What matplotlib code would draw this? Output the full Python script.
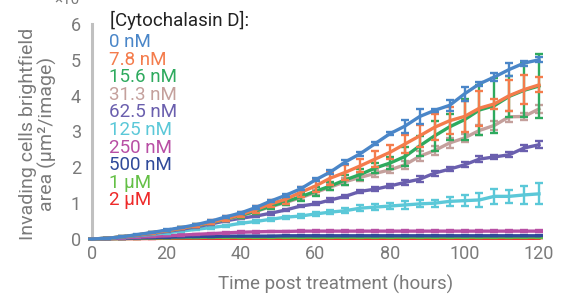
import matplotlib
matplotlib.use("Agg")
import matplotlib.pyplot as plt
import numpy as np

plt.rcParams['font.family'] = ['Roboto', 'DejaVu Sans']

hours = list(range(0, 121, 4))

labels = ["0 nM", "7.8 nM", "15.6 nM", "31.3 nM", "62.5 nM", "125 nM",
          "250 nM", "500 nM", "1 µM", "2 µM"]
colors = ["#4a86c8", "#f47c4c", "#2eaa5e", "#c4a09c", "#6a5fae", "#5bc8d8",
          "#b84ea4", "#2f4a9a", "#64c046", "#ee2a2a"]

v_0nM = [0, 0.02, 0.06, 0.12, 0.18, 0.25, 0.32, 0.40, 0.50, 0.62, 0.73, 0.88, 1.06, 1.22, 1.40, 1.65,
         1.87, 2.15, 2.38, 2.66, 2.94, 3.15, 3.42, 3.59, 3.73, 4.05, 4.33, 4.52, 4.73, 4.91, 5.00]
v_7_8nM = [0, 0.02, 0.06, 0.11, 0.17, 0.23, 0.30, 0.38, 0.47, 0.57, 0.68, 0.82, 0.98, 1.11, 1.30, 1.48,
           1.70, 1.86, 2.04, 2.23, 2.42, 2.65, 2.88, 3.12, 3.30, 3.42, 3.65, 3.77, 4.00, 4.17, 4.30]
v_15_6nM = [0, 0.02, 0.06, 0.11, 0.17, 0.23, 0.30, 0.37, 0.46, 0.56, 0.66, 0.78, 0.92, 1.04, 1.18, 1.33,
            1.48, 1.65, 1.80, 1.98, 2.12, 2.30, 2.60, 2.88, 3.13, 3.33, 3.60, 3.72, 3.98, 4.15, 4.27]
v_31_3nM = [0, 0.02, 0.06, 0.11, 0.17, 0.23, 0.30, 0.37, 0.46, 0.55, 0.65, 0.77, 0.90, 1.02, 1.15, 1.30,
            1.45, 1.60, 1.72, 1.83, 1.93, 2.07, 2.31, 2.47, 2.68, 2.82, 3.03, 3.17, 3.41, 3.42, 3.63]
v_62_5nM = [0, 0.02, 0.05, 0.10, 0.15, 0.21, 0.27, 0.34, 0.42, 0.51, 0.58, 0.64, 0.72, 0.81, 0.92, 0.98,
            1.09, 1.19, 1.33, 1.39, 1.48, 1.58, 1.67, 1.84, 1.95, 2.07, 2.23, 2.29, 2.35, 2.54, 2.63]
v_125nM = [0, 0.02, 0.05, 0.09, 0.13, 0.17, 0.22, 0.27, 0.32, 0.37, 0.44, 0.49, 0.55, 0.61, 0.64, 0.70,
           0.75, 0.79, 0.86, 0.89, 0.92, 0.95, 0.98, 1.00, 1.05, 1.07, 1.09, 1.19, 1.19, 1.23, 1.26]
v_250nM = [0, 0.01, 0.03, 0.05, 0.07, 0.09, 0.11, 0.13, 0.15, 0.17, 0.19, 0.20, 0.21, 0.21, 0.22, 0.22,
           0.22, 0.22, 0.22, 0.22, 0.22, 0.22, 0.22, 0.22, 0.22, 0.22, 0.22, 0.22, 0.22, 0.22, 0.22]
v_500nM = [0, 0.01, 0.02, 0.03, 0.04, 0.05, 0.06, 0.07, 0.07, 0.08, 0.08, 0.08, 0.08, 0.09, 0.09, 0.09,
           0.09, 0.09, 0.09, 0.09, 0.09, 0.09, 0.09, 0.09, 0.09, 0.09, 0.09, 0.09, 0.09, 0.09, 0.09]
v_1uM = [0, 0.01, 0.01, 0.02, 0.03, 0.03, 0.04, 0.04, 0.05, 0.05, 0.05, 0.05, 0.05, 0.05, 0.05, 0.05,
         0.05, 0.05, 0.05, 0.05, 0.05, 0.05, 0.05, 0.05, 0.05, 0.05, 0.05, 0.05, 0.05, 0.05, 0.05]
v_2uM = [0, 0.005, 0.01, 0.01, 0.015, 0.02, 0.02, 0.02, 0.02, 0.02, 0.02, 0.02, 0.02, 0.02, 0.02, 0.02,
         0.02, 0.02, 0.02, 0.02, 0.02, 0.02, 0.02, 0.02, 0.02, 0.02, 0.02, 0.02, 0.02, 0.02, 0.02]

e_0nM = [0, 0.01, 0.01, 0.01, 0.02, 0.02, 0.02, 0.02, 0.03, 0.03, 0.03, 0.03, 0.04, 0.04, 0.04, 0.04,
         0.05, 0.05, 0.05, 0.05, 0.05, 0.18, 0.20, 0.05, 0.15, 0.19, 0.06, 0.12, 0.19, 0.07, 0.07]
e_7_8nM = [0, 0.01, 0.01, 0.01, 0.02, 0.02, 0.03, 0.04, 0.05, 0.06, 0.07, 0.09, 0.10, 0.12, 0.14, 0.16,
           0.18, 0.20, 0.18, 0.22, 0.20, 0.24, 0.30, 0.37, 0.37, 0.44, 0.49, 0.15, 0.44, 0.40, 0.21]
e_15_6nM = [0, 0.01, 0.01, 0.01, 0.02, 0.02, 0.03, 0.04, 0.05, 0.06, 0.07, 0.08, 0.09, 0.10, 0.11, 0.12,
            0.12, 0.13, 0.14, 0.15, 0.18, 0.26, 0.28, 0.42, 0.37, 0.58, 0.70, 0.77, 0.58, 0.75, 0.90]
e_31_3nM = [0, 0.01, 0.01, 0.01, 0.02, 0.02, 0.03, 0.03, 0.04, 0.04, 0.05, 0.05, 0.06, 0.06, 0.07, 0.08,
            0.08, 0.09, 0.10, 0.10, 0.10, 0.12, 0.14, 0.12, 0.14, 0.12, 0.14, 0.12, 0.15, 0.10, 0.12]
e_62_5nM = [0, 0.01, 0.01, 0.01, 0.01, 0.02, 0.02, 0.02, 0.03, 0.03, 0.03, 0.03, 0.04, 0.04, 0.04, 0.04,
            0.05, 0.05, 0.05, 0.05, 0.05, 0.06, 0.08, 0.07, 0.06, 0.07, 0.09, 0.06, 0.07, 0.09, 0.10]
e_125nM = [0, 0.01, 0.01, 0.01, 0.01, 0.02, 0.02, 0.02, 0.03, 0.03, 0.03, 0.03, 0.04, 0.04, 0.05, 0.05,
           0.06, 0.07, 0.08, 0.08, 0.09, 0.10, 0.10, 0.10, 0.13, 0.15, 0.19, 0.20, 0.19, 0.26, 0.29]
e_250nM = [0.0] + [0.02] * 30
e_500nM = [0.0] + [0.01] * 30
e_1uM = [0.0] + [0.01] * 30
e_2uM = [0.0] + [0.005] * 30

values = [v_0nM, v_7_8nM, v_15_6nM, v_31_3nM, v_62_5nM, v_125nM, v_250nM, v_500nM, v_1uM, v_2uM]
errors = [e_0nM, e_7_8nM, e_15_6nM, e_31_3nM, e_62_5nM, e_125nM, e_250nM, e_500nM, e_1uM, e_2uM]

W, H = 567, 296
fig = plt.figure(figsize=(W / 100, H / 100), dpi=100)
ax = fig.add_axes([92 / W, (H - 239) / H, 447 / W, 215 / H])

for i in reversed(range(len(values))):
    eb = ax.errorbar(hours, values[i], yerr=errors[i], color=colors[i], lw=2.4,
                     elinewidth=1.7, capsize=3, capthick=1.7, clip_on=False, zorder=3 + (10 - i))
    for art in list(eb.lines[1]) + list(eb.lines[2]):
        art.set_clip_on(False)

ax.set_xlim(0, 120)
ax.set_ylim(0, 6)
ax.set_xticks([0, 20, 40, 60, 80, 100, 120])
ax.set_yticks([0, 1, 2, 3, 4, 5, 6])
for s in ['top', 'right', 'bottom']:
    ax.spines[s].set_visible(False)
ax.spines['left'].set_color('#c0c0c0')
ax.spines['left'].set_linewidth(2.2)
ax.tick_params(axis='both', length=0, labelsize=13, labelcolor='#7a7a7a', pad=4)
ax.tick_params(axis='y', pad=8)

fig.text(38 / W, 1 - 134 / H, "Invading cells brightfield\narea (µm²/image)", rotation=90,
         ha='center', va='center', fontsize=14, color='#7a7a7a', linespacing=1.05)
fig.text(336 / W, 1 - 284 / H, "Time post treatment (hours)", ha='center', va='center',
         fontsize=13.5, color='#7a7a7a')
fig.text(70 / W, 1 - 0 / H, "×10⁶", ha='center', va='center', fontsize=11, color='#7a7a7a')

fig.text(110 / W, 1 - 20 / H, "[Cytochalasin D]:", ha='left', va='center', fontsize=13.5, color='#222222')
for i, lab in enumerate(labels):
    fig.text(109 / W, 1 - (42 + 17.6 * i) / H, lab, ha='left', va='center', fontsize=13.5, color=colors[i])

fig.savefig("out.png", dpi=100)
